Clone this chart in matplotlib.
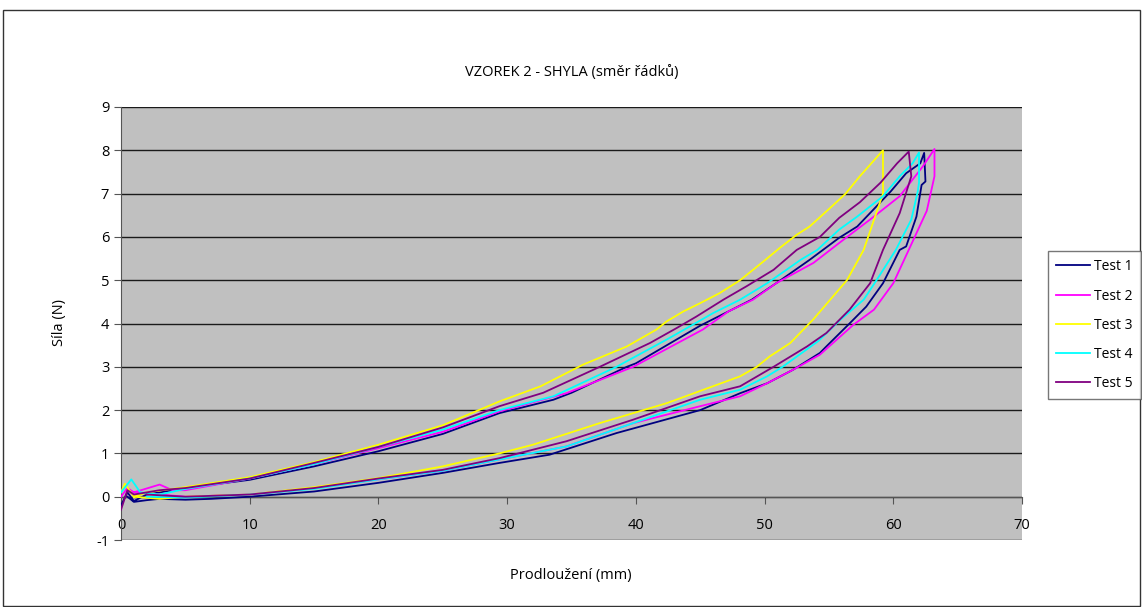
import matplotlib
matplotlib.use("Agg")
import matplotlib.pyplot as plt
from matplotlib.patches import Rectangle

# chart text
TITLE = "VZOREK 2 - SHYLA (směr řádků)"
X_LABEL = "Prodloužení (mm)"
Y_LABEL = "Síla (N)"
LABELS = ["Test 1", "Test 2", "Test 3", "Test 4", "Test 5"]
COLORS = ["#000080", "#FF00FF", "#FFFF00", "#00FFFF", "#800080"]

# each test: loading branch up to the top, drop, then unloading branch back
t1_x = [0, 0.5, 1, 2, 5, 10, 15, 20, 25, 29.4, 33.6, 35, 39.3, 40, 45, 47, 49,
        51, 53.5, 55.8, 57.2, 59.8, 61, 62.1, 62.4,
        62.5, 62.2, 61.8, 61.0, 60.5, 59.2, 57.9, 56.6, 54.8, 54.3, 52.2, 50.2,
        48.1, 45, 38.5, 33.3, 29.4, 25, 20, 15, 10, 7, 5, 3, 2, 1, 0.5]
t1_y = [-0.2, 0.1, -0.1, 0.05, 0.2, 0.39, 0.7, 1.05, 1.45, 1.93, 2.24, 2.4, 3.0,
        3.08, 3.95, 4.25, 4.55, 4.95, 5.47, 5.98, 6.24, 7.05, 7.47, 7.7, 7.94,
        7.28, 7.2, 6.47, 5.78, 5.7, 4.93, 4.39, 4.0, 3.47, 3.32, 2.93, 2.62,
        2.39, 2.0, 1.47, 0.97, 0.78, 0.55, 0.32, 0.12, 0.0, -0.05, -0.07, -0.05,
        -0.08, -0.12, 0.0]

t2_x = [0, 0.5, 1, 3, 4, 5, 10, 15, 20, 25, 29.4, 34.6, 39.8, 45.2, 47.2, 49.1,
        50.9, 53.8, 55.8, 58.5, 60.5, 62.3, 63.2,
        63.2, 62.6, 61.2, 60.0, 58.5, 56.9, 54.3, 52.2, 50.2, 48.1, 45, 39.8,
        34.6, 29.4, 25, 20, 15, 10, 5, 3, 1]
t2_y = [0, 0.2, 0.1, 0.28, 0.15, 0.15, 0.42, 0.75, 1.12, 1.5, 1.97, 2.39, 3.0,
        3.86, 4.28, 4.55, 4.93, 5.4, 5.86, 6.47, 6.94, 7.63, 8.03,
        7.4, 6.6, 5.7, 4.93, 4.32, 3.97, 3.28, 2.93, 2.62, 2.32, 2.09, 1.7,
        1.16, 0.86, 0.6, 0.4, 0.2, 0.05, 0.0, 0.05, 0.1]

t3_x = [0, 0.3, 1, 2, 5, 10, 15, 20, 25, 29.4, 32.6, 35.9, 39.3, 41.6, 42.4,
        43.7, 45.0, 46.5, 48.1, 49.9, 51.2, 52.5, 53.5, 55.1, 56.3, 57.4, 58.3,
        59.2,
        59.2, 57.7, 56.4, 55.1, 53.8, 52.0, 50.4, 49.4, 48.1, 42.4, 37.2, 32.0,
        29.4, 25, 20, 15, 10, 5, 3, 1]
t3_y = [0.1, 0.3, 0.0, 0.1, 0.22, 0.45, 0.8, 1.2, 1.65, 2.2, 2.55, 3.05, 3.47,
        3.86, 4.05, 4.28, 4.47, 4.7, 5.0, 5.43, 5.75, 6.05, 6.24, 6.67, 7.0,
        7.4, 7.7, 8.0,
        7.0, 5.7, 5.0, 4.55, 4.1, 3.55, 3.24, 3.0, 2.78, 2.16, 1.7, 1.2,
        1.0, 0.7, 0.43, 0.22, 0.05, 0.0, -0.05, 0.0]

t4_x = [0, 0.8, 1.5, 3, 5, 10, 15, 20, 25, 29.4, 33.6, 38.5, 42.4, 44.0, 46.0,
        48.1, 50.2, 51.7, 52.8, 54.1, 55.8, 57.2, 59.2, 60.5, 61.5, 62.0,
        62.0, 61.9, 61.4, 60.2, 58.7, 57.7, 55.9, 54.2, 51.4, 50.2, 48.1, 45,
        39.8, 34.6, 29.4, 25, 20, 15, 10, 5, 2]
t4_y = [0.1, 0.4, 0.1, 0.05, 0.18, 0.42, 0.75, 1.15, 1.55, 2.0, 2.32, 3.0,
        3.63, 3.9, 4.24, 4.55, 4.93, 5.24, 5.47, 5.7, 6.17, 6.47, 6.94, 7.4,
        7.7, 7.95,
        7.25, 7.05, 6.4, 5.7, 5.0, 4.55, 4.09, 3.6, 3.0, 2.78, 2.47, 2.24,
        1.7, 1.16, 0.86, 0.6, 0.4, 0.18, 0.05, -0.02, 0.0]

t5_x = [0, 0.5, 1, 3, 5, 10, 15, 20, 25, 29.4, 32.8, 37.2, 41.1, 43.2, 44.7,
        46.8, 48.6, 50.7, 52.5, 54.3, 55.8, 57.4, 59.0, 60.3, 61.2,
        61.4, 60.5, 59.2, 58.2, 56.6, 54.8, 53.3, 50.7, 48.1, 45, 39.8, 34.6,
        29.4, 25, 20, 15, 10, 5, 2]
t5_y = [-0.3, 0.15, 0.05, 0.15, 0.2, 0.42, 0.78, 1.15, 1.6, 2.09, 2.4, 3.0,
        3.55, 3.9, 4.16, 4.55, 4.86, 5.24, 5.7, 6.0, 6.44, 6.8, 7.25, 7.7, 7.97,
        7.4, 6.55, 5.7, 4.93, 4.32, 3.78, 3.47, 3.0, 2.55, 2.32, 1.78, 1.28,
        0.89, 0.62, 0.42, 0.2, 0.05, 0.0, 0.05]

series = [(t1_x, t1_y), (t2_x, t2_y), (t3_x, t3_y), (t4_x, t4_y), (t5_x, t5_y)]

plt.rcParams["font.family"] = ["Open Sans", "DejaVu Sans"]
plt.rcParams["axes.unicode_minus"] = False

fig = plt.figure(figsize=(11.42, 6.07), dpi=100)
ax = fig.add_axes([121 / 1142, 67 / 607, 901 / 1142, 433 / 607])
ax.set_facecolor("#C0C0C0")

for (xs, ys), lab, col in zip(series, LABELS, COLORS):
    ax.plot(xs, ys, color=col, lw=1.3, label=lab, zorder=3)

ax.set_xlim(0, 70)
ax.set_ylim(-1, 9)
ax.set_xticks(range(0, 71, 10))
ax.set_yticks(range(-1, 10))
ax.grid(axis="y", color="#1a1a1a", lw=1)
ax.set_axisbelow(True)

for side in ["top", "right"]:
    ax.spines[side].set_visible(False)
ax.spines["bottom"].set_position(("data", 0))
ax.spines["bottom"].set_color("#555555")
ax.spines["left"].set_color("#555555")
ax.tick_params(direction="out", length=5, color="#555555", labelsize=10.5)
ax.tick_params(axis="x", pad=10)

ax.set_title(TITLE, fontsize=10.5, pad=22)
fig.text(571 / 1142, 1 - 575 / 607, X_LABEL, ha="center", va="center", fontsize=10.5)
fig.text(60 / 1142, 1 - 323 / 607, Y_LABEL, ha="center", va="center",
         rotation=90, fontsize=10.5)

leg = fig.legend(loc="upper left", bbox_to_anchor=(1048 / 1142, 1 - 251 / 607),
                 fontsize=10, frameon=True, fancybox=False, handlelength=2.45,
                 labelspacing=1.02, borderpad=0.6, handletextpad=0.25,
                 borderaxespad=0)
leg.get_frame().set_edgecolor("#555555")
leg.get_frame().set_linewidth(1)

fig.patches.append(Rectangle((3 / 1142, 1 / 607), 1137 / 1142, 596 / 607,
                             transform=fig.transFigure, fill=False,
                             edgecolor="#333333", lw=1))

fig.savefig("out.png", dpi=100)
